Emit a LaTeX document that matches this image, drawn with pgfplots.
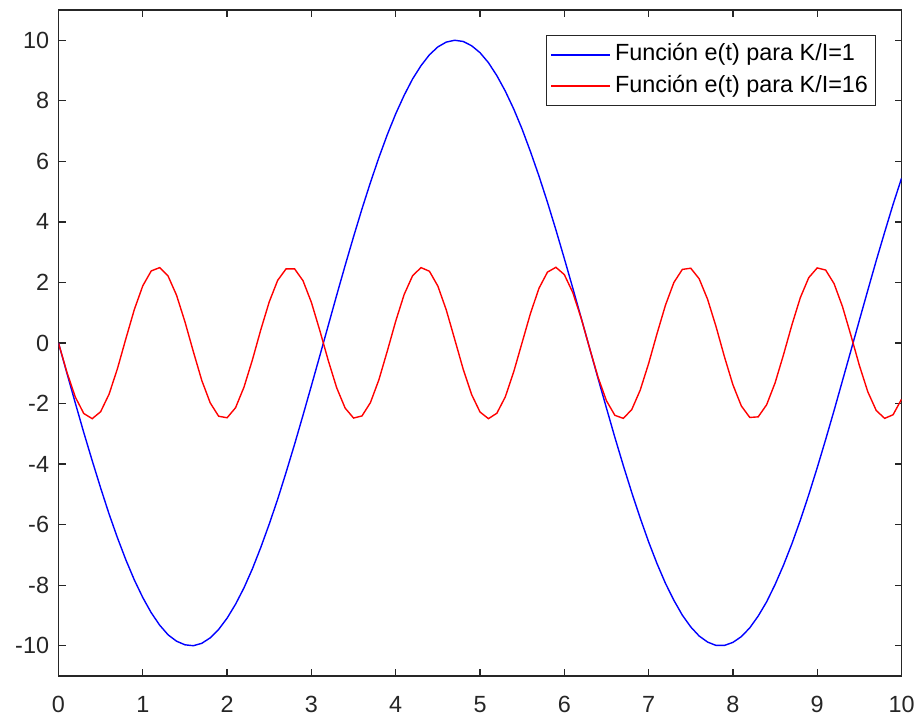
\documentclass[border=0pt]{standalone}
\usepackage{fontspec}
\setmainfont{Liberation Sans}
\usepackage{pgfplots}
\pgfplotsset{compat=1.18}
\definecolor{axgray}{RGB}{38,38,38}
\begin{document}
\begin{tikzpicture}
\begin{axis}[
  scale only axis,
  width=421.5pt, height=333pt,
  xmin=0, xmax=10, ymin=-11, ymax=11,
  xtick={0,1,...,10}, ytick={-10,-8,...,10},
  /pgf/number format/assume math mode=true,
  tick align=inside,
  major tick length=3.5pt,
  axis line style={axgray, line width=0.65pt},
  tick style={axgray, line width=0.65pt},
  tick label style={font=\fontsize{11.7}{13}\selectfont, text=axgray},
  yticklabel style={xshift=-1.2pt},
  xticklabel style={yshift=-6.5pt},
  legend cell align=left,
  legend image code/.code={\draw[#1, line width=1pt] (0pt,0pt) -- (29.5pt,0pt);},
  legend style={at={(0.9698,0.9625)}, anchor=north east, draw=axgray, line width=0.45pt,
    font=\fontsize{11.7}{13}\selectfont, inner xsep=2pt, inner ysep=2.1pt, row sep=0.8pt,
    nodes={inner xsep=1.8pt, inner ysep=2pt, text height=8.5pt, text depth=2.5pt}},
]
\addplot[blue, line width=0.7pt] table {
0 0
0.1 -1.00
0.2 -1.99
0.3 -2.96
0.4 -3.89
0.5 -4.79
0.6 -5.65
0.7 -6.44
0.8 -7.17
0.9 -7.83
1.0 -8.41
1.1 -8.91
1.2 -9.32
1.3 -9.64
1.4 -9.85
1.5 -9.97
1.6 -10.00
1.7 -9.92
1.8 -9.74
1.9 -9.46
2.0 -9.09
2.1 -8.63
2.2 -8.09
2.3 -7.46
2.4 -6.75
2.5 -5.98
2.6 -5.16
2.7 -4.27
2.8 -3.35
2.9 -2.39
3.0 -1.41
3.1 -0.42
3.2 0.58
3.3 1.58
3.4 2.56
3.5 3.51
3.6 4.43
3.7 5.30
3.8 6.12
3.9 6.88
4.0 7.57
4.1 8.18
4.2 8.72
4.3 9.16
4.4 9.52
4.5 9.78
4.6 9.94
4.7 10.00
4.8 9.96
4.9 9.82
5.0 9.59
5.1 9.26
5.2 8.83
5.3 8.32
5.4 7.73
5.5 7.06
5.6 6.31
5.7 5.51
5.8 4.65
5.9 3.74
6.0 2.79
6.1 1.82
6.2 0.83
6.3 -0.17
6.4 -1.17
6.5 -2.15
6.6 -3.12
6.7 -4.05
6.8 -4.94
6.9 -5.78
7.0 -6.57
7.1 -7.29
7.2 -7.94
7.3 -8.50
7.4 -8.99
7.5 -9.38
7.6 -9.68
7.7 -9.88
7.8 -9.99
7.9 -9.99
8.0 -9.89
8.1 -9.70
8.2 -9.41
8.3 -9.02
8.4 -8.55
8.5 -7.98
8.6 -7.34
8.7 -6.63
8.8 -5.85
8.9 -5.01
9.0 -4.12
9.1 -3.19
9.2 -2.23
9.3 -1.24
9.4 -0.25
9.5 0.75
9.6 1.74
9.7 2.72
9.8 3.66
9.9 4.58
10.0 5.44
};
\addlegendentry{Función e(t) para K/I=1}
\addplot[red, line width=0.7pt] table {
0 0
0.1 -0.97
0.2 -1.79
0.3 -2.33
0.4 -2.50
0.5 -2.27
0.6 -1.69
0.7 -0.84
0.8 0.15
0.9 1.11
1.0 1.89
1.1 2.38
1.2 2.49
1.3 2.21
1.4 1.58
1.5 0.70
1.6 -0.29
1.7 -1.24
1.8 -1.98
1.9 -2.42
2.0 -2.47
2.1 -2.14
2.2 -1.46
2.3 -0.56
2.4 0.44
2.5 1.36
2.6 2.07
2.7 2.45
2.8 2.45
2.9 2.06
3.0 1.34
3.1 0.41
3.2 -0.58
3.3 -1.48
3.4 -2.15
3.5 -2.48
3.6 -2.41
3.7 -1.97
3.8 -1.22
3.9 -0.27
4.0 0.72
4.1 1.60
4.2 2.22
4.3 2.49
4.4 2.37
4.5 1.88
4.6 1.09
4.7 0.12
4.8 -0.86
4.9 -1.70
5.0 -2.28
5.1 -2.50
5.2 -2.32
5.3 -1.78
5.4 -0.95
5.5 0.02
5.6 0.99
5.7 1.81
5.8 2.34
5.9 2.50
6.0 2.26
6.1 1.67
6.2 0.82
6.3 -0.17
6.4 -1.13
6.5 -1.91
6.6 -2.39
6.7 -2.49
6.8 -2.20
6.9 -1.56
7.0 -0.68
7.1 0.31
7.2 1.25
7.3 2.00
7.4 2.43
7.5 2.47
7.6 2.12
7.7 1.44
7.8 0.54
7.9 -0.46
8.0 -1.38
8.1 -2.08
8.2 -2.46
8.3 -2.44
8.4 -2.04
8.5 -1.32
8.6 -0.39
8.7 0.60
8.8 1.50
8.9 2.16
9.0 2.48
9.1 2.41
9.2 1.96
9.3 1.20
9.4 0.25
9.5 -0.74
9.6 -1.61
9.7 -2.23
9.8 -2.49
9.9 -2.37
10.0 -1.86
};
\addlegendentry{Función e(t) para K/I=16}
\coordinate (bl) at (rel axis cs:0,0);
\coordinate (tr) at (rel axis cs:1,1);
\end{axis}
\pgfresetboundingbox
\path[use as bounding box] ([shift={(-29.25pt,-21.5pt)}]bl) rectangle ([shift={(8.75pt,5pt)}]tr);
\end{tikzpicture}
\end{document}
